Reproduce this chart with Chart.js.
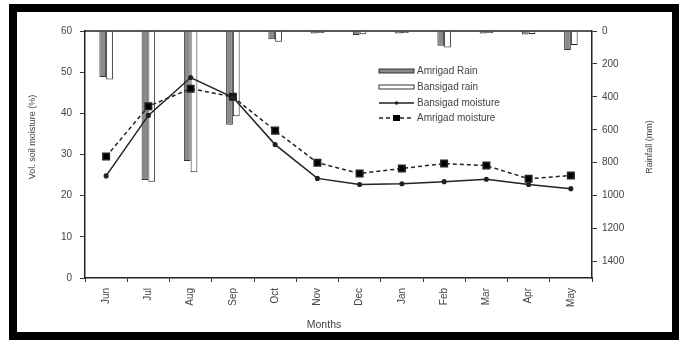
<!DOCTYPE html>
<html>
<head>
<meta charset="utf-8">
<script src="https://cdn.jsdelivr.net/npm/chart.js@4"></script>
<style>
  html, body { margin: 0; padding: 0; background: #fff; overflow: hidden; }
  #frame {
    position: absolute; left: 9px; top: 4px;
    width: 655px; height: 320px;
    border: 8px solid #000; background: #fff;
  }
  canvas { display: block; }
</style>
</head>
<body>
<div id="frame"><canvas id="soilChart" width="655" height="320"></canvas></div>
<script>
// values
const months = ["Jun", "Jul", "Aug", "Sep", "Oct", "Nov", "Dec", "Jan", "Feb", "Mar", "Apr", "May"];
const amrigadRain = [280, 905, 790, 570, 50, 15, 25, 15, 90, 15, 22, 115];
const bansigadRain = [295, 915, 858, 517, 65, 12, 20, 12, 100, 12, 18, 85];
const bansigadMoisture = [24.8, 39.5, 48.7, 43.9, 32.4, 24.2, 22.7, 22.9, 23.4, 24.0, 22.7, 21.7];
const amrigadMoisture = [29.5, 41.7, 46.0, 44.0, 35.8, 28.0, 25.4, 26.6, 27.8, 27.3, 24.1, 24.9];
const moistureTicks = [0, 10, 20, 30, 40, 50, 60];
const rainTicks = [0, 200, 400, 600, 800, 1000, 1200, 1400];

const textColor = "#444";
const fontFamily = "'Liberation Sans', Arial, sans-serif";

// legend + axis titles + top border drawn by hand
const extrasPlugin = {
  id: "extras",
  afterDraw(chart) {
    const ctx = chart.ctx;
    const area = chart.chartArea;
    ctx.save();

    // top border of the plot box
    ctx.strokeStyle = "#222";
    ctx.lineWidth = 1.5;
    ctx.beginPath();
    ctx.moveTo(area.left, area.top);
    ctx.lineTo(area.right, area.top);
    ctx.stroke();

    // axis titles
    ctx.fillStyle = textColor;
    ctx.textAlign = "center";
    ctx.textBaseline = "middle";
    ctx.font = "9px " + fontFamily;
    ctx.save();
    ctx.translate(16, 125);
    ctx.rotate(-Math.PI / 2);
    ctx.fillText("Vol. soil moisture (%)", 0, 0);
    ctx.restore();

    ctx.save();
    ctx.translate(633, 135);
    ctx.rotate(-Math.PI / 2);
    ctx.fillText("Rainfall (mm)", 0, 0);
    ctx.restore();

    ctx.font = "10.5px " + fontFamily;
    ctx.fillText("Months", 307, 313);

    // legend
    const sx = 362, sw = 35, tx = 400;
    const rows = [59, 75, 91, 106];
    ctx.font = "10px " + fontFamily;
    ctx.textAlign = "left";

    ctx.fillStyle = "#8a8a8a";
    ctx.fillRect(sx, rows[0] - 2, sw, 4);
    ctx.strokeStyle = "#333";
    ctx.lineWidth = 1;
    ctx.strokeRect(sx, rows[0] - 2, sw, 4);

    ctx.fillStyle = "#fff";
    ctx.fillRect(sx, rows[1] - 2, sw, 4);
    ctx.strokeRect(sx, rows[1] - 2, sw, 4);

    ctx.strokeStyle = "#222";
    ctx.lineWidth = 1.5;
    ctx.beginPath();
    ctx.moveTo(sx, rows[2]);
    ctx.lineTo(sx + sw, rows[2]);
    ctx.stroke();
    ctx.fillStyle = "#222";
    ctx.beginPath();
    ctx.arc(sx + sw / 2, rows[2], 1.8, 0, Math.PI * 2);
    ctx.fill();

    ctx.setLineDash([4, 3]);
    ctx.beginPath();
    ctx.moveTo(sx, rows[3]);
    ctx.lineTo(sx + sw, rows[3]);
    ctx.stroke();
    ctx.setLineDash([]);
    ctx.fillStyle = "#000";
    ctx.fillRect(sx + sw / 2 - 3.5, rows[3] - 3, 7, 6);

    ctx.fillStyle = textColor;
    ctx.fillText("Amrigad Rain", tx, rows[0]);
    ctx.fillText("Bansigad rain", tx, rows[1]);
    ctx.fillText("Bansigad moisture", tx, rows[2]);
    ctx.fillText("Amrigad moisture", tx, rows[3]);

    ctx.restore();
  }
};

const ctx = document.getElementById("soilChart").getContext("2d");
const chart = new Chart(ctx, {
  type: "bar",
  data: {
    labels: months,
    datasets: [
      {
        label: "Amrigad Rain",
        data: amrigadRain,
        yAxisID: "y1",
        backgroundColor: "#8a8a8a",
        borderColor: "#333",
        borderWidth: 1,
        categoryPercentage: 0.32,
        barPercentage: 1.0,
        order: 2,
      },
      {
        label: "Bansigad rain",
        data: bansigadRain,
        yAxisID: "y1",
        backgroundColor: "#fff",
        borderColor: "#222",
        borderWidth: 1,
        categoryPercentage: 0.32,
        barPercentage: 1.0,
        order: 2,
      },
      {
        type: "line",
        label: "Bansigad moisture",
        data: bansigadMoisture,
        yAxisID: "y",
        borderColor: "#222",
        backgroundColor: "#222",
        borderWidth: 1.5,
        pointRadius: 1.8,
        pointStyle: "circle",
        tension: 0,
        order: 1,
      },
      {
        type: "line",
        label: "Amrigad moisture",
        data: amrigadMoisture,
        yAxisID: "y",
        borderColor: "#222",
        backgroundColor: "#000",
        borderWidth: 1.5,
        borderDash: [4, 3],
        pointRadius: 4.6,
        pointStyle: "rect",
        tension: 0,
        order: 1,
      },
    ],
  },
  options: {
    responsive: false,
    animation: false,
    devicePixelRatio: 1,
    layout: { padding: { top: 19, left: 0, right: 0, bottom: 0 } },
    plugins: {
      legend: { display: false },
      tooltip: { enabled: false },
    },
    scales: {
      x: {
        afterFit: (s) => { s.height = 54; },
        grid: { drawOnChartArea: false, tickLength: 4, color: "#333", offset: true },
        border: { color: "#222", width: 1.5 },
        ticks: {
          color: textColor,
          font: { family: fontFamily, size: 10 },
          maxRotation: 90,
          minRotation: 90,
          autoSkip: false,
          padding: 6,
        },
      },
      y: {
        position: "left",
        min: 0,
        max: 60,
        afterFit: (s) => { s.width = 68; },
        afterBuildTicks: (s) => { s.ticks = moistureTicks.map((v) => ({ value: v })); },
        grid: { drawOnChartArea: false, tickLength: 5, color: "#333" },
        border: { color: "#222", width: 1.5 },
        ticks: {
          color: textColor,
          font: { family: fontFamily, size: 10 },
          padding: 8,
          callback: (v) => String(v),
        },
      },
      y1: {
        position: "right",
        reverse: true,
        min: 0,
        max: 1500,
        afterFit: (s) => { s.width = 80; },
        afterBuildTicks: (s) => { s.ticks = rainTicks.map((v) => ({ value: v })); },
        grid: { drawOnChartArea: false, tickLength: 5, color: "#333" },
        border: { color: "#222", width: 1.5 },
        ticks: {
          color: textColor,
          font: { family: fontFamily, size: 10 },
          padding: 5,
          callback: (v) => String(v),
        },
      },
    },
  },
  plugins: [extrasPlugin],
});
</script>
</body>
</html>
